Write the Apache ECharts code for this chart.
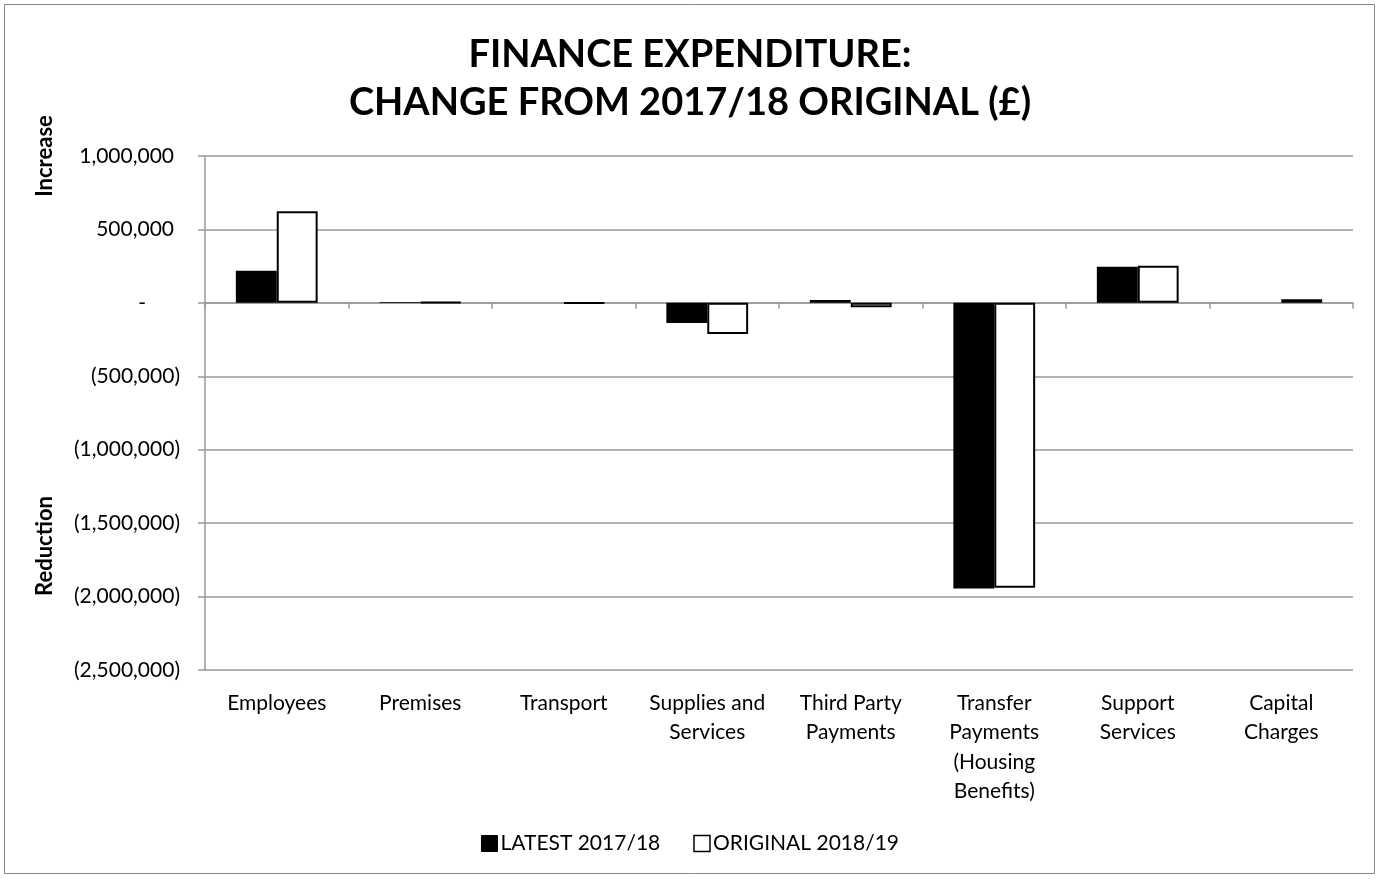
<!DOCTYPE html>
<html><head><meta charset="utf-8">
<script src="https://cdn.jsdelivr.net/npm/echarts@6/dist/echarts.min.js"></script>
<style>html,body{margin:0;padding:0;background:#fff}#c{width:1380px;height:879px}</style>
</head><body><div id="c"></div>
<script>
const categories = ["Employees","Premises","Transport","Supplies and\nServices","Third Party\nPayments","Transfer\nPayments\n(Housing\nBenefits)","Support\nServices","Capital\nCharges"];
const latest = [219000, 5000, 0, -137000, 20000, -1945000, 246000, 0];
const original = [623000, 4000, -3000, -212000, -30000, -1940000, 253000, 25000];
const yTicks = {min: -2500000, max: 1000000, interval: 500000};

const FONT = "Lato, 'Open Sans', sans-serif";
function fmt(v){
  if (v === 0) return '{z|-}';
  const s = Math.abs(v).toLocaleString('en-GB');
  return v < 0 ? '{n|(' + s + ')}' : '{p|' + s + '}';
}
const labelBase = {fontFamily: FONT, fontSize: 21, color: '#000'};
const chart = echarts.init(document.getElementById('c'));
chart.setOption({
  animation: false,
  backgroundColor: '#fff',
  title: {
    text: 'FINANCE EXPENDITURE:\nCHANGE FROM 2017/18 ORIGINAL (£)',
    left: 'center', top: 26,
    textStyle: {fontFamily: FONT, fontWeight: 'bold', fontSize: 38, color: '#000', lineHeight: 48}
  },
  legend: {
    bottom: 20, left: 'center', itemWidth: 16, itemHeight: 16, itemGap: 33,
    textStyle: {fontFamily: FONT, fontSize: 21, color: '#000', padding: [0, 0, 0, -2]},
    data: [
      {name: 'LATEST 2017/18', icon: 'rect', itemStyle: {color: '#000', borderColor: '#000', borderWidth: 1}},
      {name: 'ORIGINAL 2018/19', icon: 'rect', itemStyle: {color: '#fff', borderColor: '#000', borderWidth: 1.5}}
    ]
  },
  grid: {left: 205, right: 27, top: 156, bottom: 209},
  xAxis: [
    {type: 'category', data: categories, axisLine: {onZero: true, lineStyle: {color: '#999', width: 1.5}},
     axisTick: {show: true, length: 6, lineStyle: {color: '#999', width: 1.5}}, axisLabel: {show: false}},
    {type: 'category', data: categories, position: 'bottom', axisLine: {show: false, onZero: false}, axisTick: {show: false},
     axisLabel: Object.assign({}, labelBase, {lineHeight: 29.5, margin: 18, interval: 0})}
  ],
  yAxis: {
    type: 'value', min: yTicks.min, max: yTicks.max, interval: yTicks.interval,
    axisLine: {show: true, lineStyle: {color: '#999', width: 1.5}},
    axisTick: {show: true, length: 7, lineStyle: {color: '#999', width: 1.5}},
    splitLine: {lineStyle: {color: '#999', width: 1.5}},
    axisLabel: Object.assign({}, labelBase, {margin: 25, formatter: fmt,
      rich: {
        p: Object.assign({}, labelBase, {padding: [0, 6, 0, 0]}),
        n: Object.assign({}, labelBase),
        z: Object.assign({}, labelBase, {padding: [0, 34, 0, 0]})
      }})
  },
  series: [
    {name: 'LATEST 2017/18', type: 'bar', data: latest, barGap: '0%', barCategoryGap: '43%',
     itemStyle: {color: '#000', borderWidth: 0}},
    {name: 'ORIGINAL 2018/19', type: 'bar', data: original,
     itemStyle: {color: '#fff', borderColor: '#000', borderWidth: 2}}
  ],
  graphic: [
    {type: 'rect', shape: {x: 4.5, y: 4.5, width: 1370, height: 869}, style: {fill: 'none', stroke: '#888', lineWidth: 1}, silent: true},
    {type: 'text', x: 45, y: 156, rotation: Math.PI/2, style: {text: 'Increase', fontFamily: FONT, fontWeight: 'bold', fontSize: 22, fill: '#000', align: 'center', verticalAlign: 'middle'}},
    {type: 'text', x: 45, y: 546, rotation: Math.PI/2, style: {text: 'Reduction', fontFamily: FONT, fontWeight: 'bold', fontSize: 22, fill: '#000', align: 'center', verticalAlign: 'middle'}}
  ]
});
</script></body></html>
